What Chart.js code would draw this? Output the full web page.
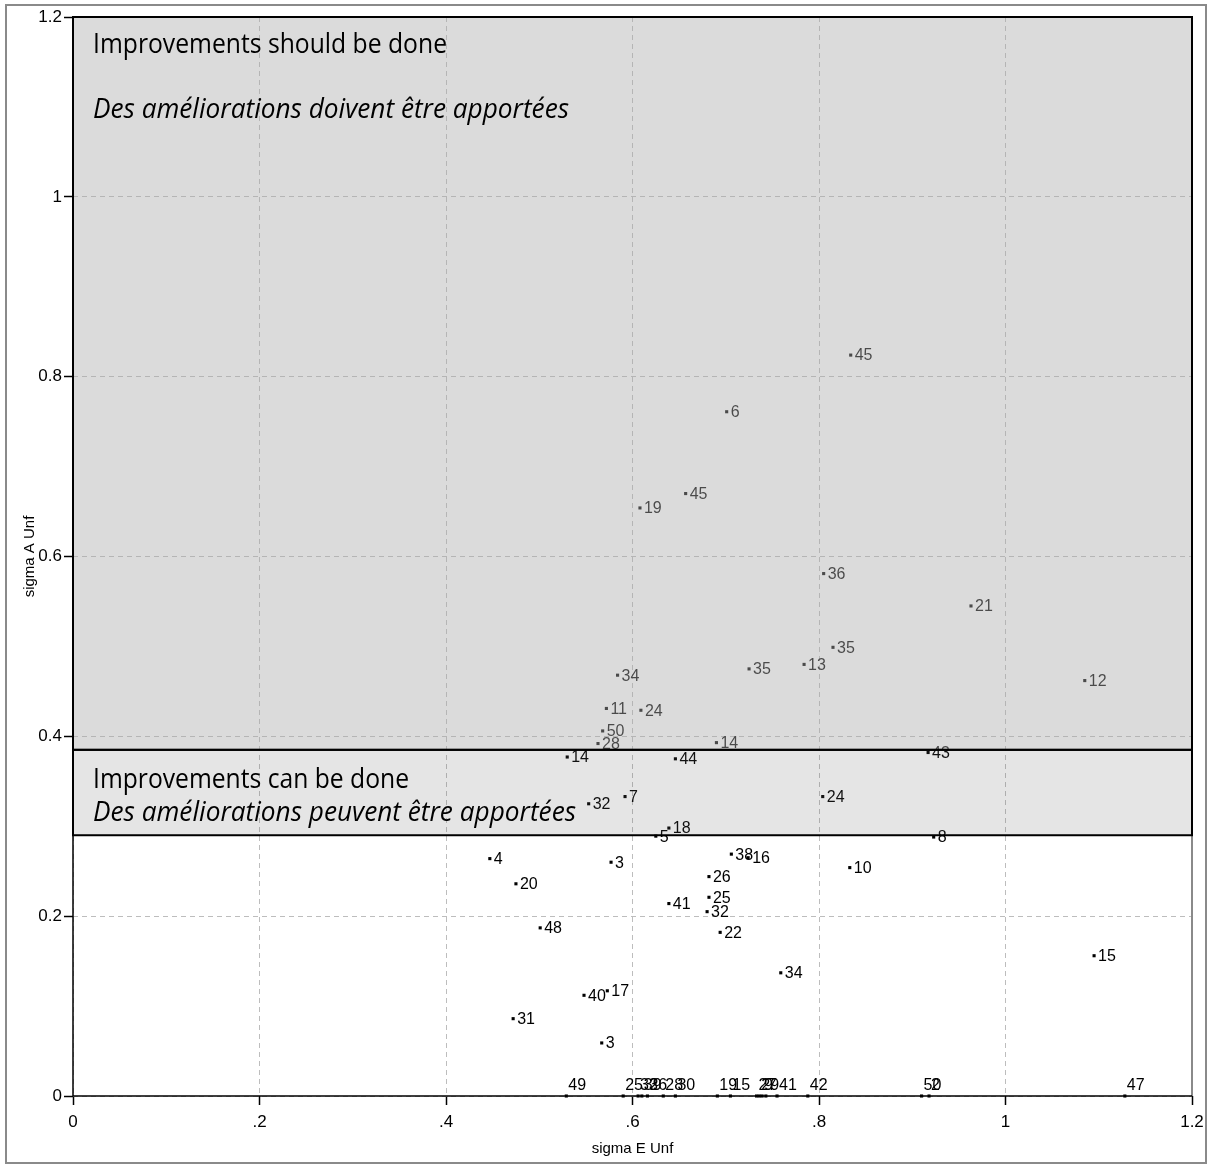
<!DOCTYPE html>
<html>
<head>
<meta charset="utf-8">
<script src="https://cdn.jsdelivr.net/npm/chart.js@4.4.0/dist/chart.umd.min.js"></script>
<style>
  html, body { margin: 0; padding: 0; background: #ffffff; }
  #wrap { width: 1208px; height: 1165px; position: relative; }
</style>
</head>
<body>
<div id="wrap"><canvas id="c" width="1208" height="1165"></canvas></div>
<script>
// ---------- data ----------
const sigmaE = [0.834, 0.701, 0.657, 0.608, 0.805, 0.963, 0.815, 0.725, 0.784, 1.085,
                0.584, 0.572, 0.609, 0.568, 0.563, 0.690, 0.530, 0.646, 0.917, 0.553,
                0.592, 0.804, 0.625, 0.639, 0.923, 0.447, 0.577, 0.706, 0.724, 0.833,
                0.475, 0.682, 0.682, 0.639, 0.680, 0.694, 0.501, 1.095, 0.759, 0.548,
                0.573, 0.472, 0.567];
const sigmaA = [0.824, 0.761, 0.670, 0.654, 0.581, 0.545, 0.499, 0.475, 0.480, 0.462,
                0.468, 0.431, 0.429, 0.406, 0.392, 0.393, 0.377, 0.375, 0.382, 0.325,
                0.333, 0.333, 0.289, 0.298, 0.288, 0.264, 0.260, 0.269, 0.265, 0.254,
                0.236, 0.244, 0.221, 0.214, 0.205, 0.182, 0.187, 0.156, 0.137, 0.112,
                0.117, 0.086, 0.059];
const pointIds = ['45', '6', '45', '19', '36', '21', '35', '35', '13', '12',
                  '34', '11', '24', '50', '28', '14', '14', '44', '43', '32',
                  '7', '24', '5', '18', '8', '4', '3', '38', '16', '10',
                  '20', '26', '25', '41', '32', '22', '48', '15', '34', '40',
                  '17', '31', '3'];

// points lying on sigma A = 0
const zeroE = [0.529, 0.590, 0.606, 0.610, 0.616, 0.633, 0.646, 0.691, 0.705, 0.733,
               0.736, 0.739, 0.743, 0.755, 0.788, 0.910, 0.918, 1.128];
const zeroA = [0, 0, 0, 0, 0, 0, 0, 0, 0, 0, 0, 0, 0, 0, 0, 0, 0, 0];
const zeroIds = ['49', '25', '33', '39', '26', '28', '30', '19', '15', '2',
                 '29', '9', '7', '41', '42', '50', '2', '47'];

// zones
const zoneFrom = [0.385, 0.29];
const zoneTo = [1.2, 0.385];
const zoneTitleEn = ['Improvements should be done', 'Improvements can be done'];
const zoneTitleFr = ['Des améliorations doivent être apportées', 'Des améliorations peuvent être apportées'];

// axes
const xTickValues = [0, 0.2, 0.4, 0.6, 0.8, 1, 1.2];
const xTickLabels = ['0', '.2', '.4', '.6', '.8', '1', '1.2'];
const yTickValues = [0, 0.2, 0.4, 0.6, 0.8, 1, 1.2];
const yTickLabels = ['0', '0.2', '0.4', '0.6', '0.8', '1', '1.2'];
const xTitle = 'sigma E Unf';
const yTitle = 'sigma A Unf';

// ---------- styles ----------
const zoneFill = ['rgba(172,172,172,0.43)', 'rgba(100,100,100,0.17)'];
const zoneTextWidth = [[354, 476], [316, 483]];
const zoneTextBaseline = [[36, 101], [38, 71]];
const BASE_FONT = '"Liberation Sans", Arial, sans-serif';

const annotate = {
  id: 'annotate',
  beforeDraw(chart) {
    const ctx = chart.ctx;
    ctx.save();
    ctx.fillStyle = '#ffffff';
    ctx.fillRect(0, 0, chart.width, chart.height);
    ctx.strokeStyle = '#8a8a8a';
    ctx.lineWidth = 2;
    ctx.strokeRect(6, 5, chart.width - 8, chart.height - 7);
    ctx.restore();
  },
  beforeDatasetsDraw(chart) {
    const ctx = chart.ctx;
    const area = chart.chartArea;
    ctx.save();
    ctx.setLineDash([]);
    // plot right edge
    ctx.strokeStyle = '#8a8a8a';
    ctx.lineWidth = 2;
    ctx.beginPath();
    ctx.moveTo(area.right, area.top);
    ctx.lineTo(area.right, area.bottom);
    ctx.stroke();
    // axis lines
    ctx.strokeStyle = '#000000';
    ctx.lineWidth = 1.5;
    ctx.beginPath();
    ctx.moveTo(area.left, area.top);
    ctx.lineTo(area.left, area.bottom);
    ctx.lineTo(area.right, area.bottom);
    ctx.stroke();
    ctx.restore();
  },
  afterDatasetsDraw(chart) {
    const ctx = chart.ctx;
    const xs = chart.scales.x, ys = chart.scales.y;
    ctx.save();
    ctx.setLineDash([]);

    // marker labels
    ctx.font = '16px ' + BASE_FONT;
    ctx.fillStyle = '#000000';
    ctx.textAlign = 'left';
    ctx.textBaseline = 'middle';
    chart.getDatasetMeta(0).data.forEach((pt, i) => {
      ctx.fillText(pointIds[i], pt.x + 4, pt.y + 1);
    });
    chart.getDatasetMeta(1).data.forEach((pt, i) => {
      ctx.fillText(zeroIds[i], pt.x + 2, pt.y - 10);
    });

    // zones
    const x0 = xs.getPixelForValue(xs.min);
    const x1 = xs.getPixelForValue(xs.max);
    zoneFrom.forEach((lo, k) => {
      const yTop = ys.getPixelForValue(zoneTo[k]);
      const yBot = ys.getPixelForValue(lo);
      ctx.fillStyle = zoneFill[k];
      ctx.fillRect(x0, yTop, x1 - x0, yBot - yTop);
    });
    ctx.strokeStyle = '#000000';
    ctx.lineWidth = 2;
    zoneFrom.forEach((lo, k) => {
      const yTop = ys.getPixelForValue(zoneTo[k]);
      const yBot = ys.getPixelForValue(lo);
      ctx.strokeRect(x0, yTop, x1 - x0, yBot - yTop);
    });

    // zone titles
    ctx.fillStyle = '#000000';
    ctx.textBaseline = 'alphabetic';
    const drawFit = (text, font, x, y, w) => {
      ctx.font = font;
      const m = ctx.measureText(text).width;
      ctx.save();
      ctx.translate(x, y);
      ctx.scale(w / m, 1);
      ctx.fillText(text, 0, 0);
      ctx.restore();
    };
    zoneFrom.forEach((lo, k) => {
      const yTop = ys.getPixelForValue(zoneTo[k]);
      drawFit(zoneTitleEn[k], '27px "Open Sans", "Noto Sans", sans-serif', x0 + 20, yTop + zoneTextBaseline[k][0], zoneTextWidth[k][0]);
      drawFit(zoneTitleFr[k], 'italic 27px "Open Sans", "Noto Sans", sans-serif', x0 + 20, yTop + zoneTextBaseline[k][1], zoneTextWidth[k][1]);
    });
    ctx.restore();
  }
};

const mainPts = sigmaE.map((x, i) => ({ x: x, y: sigmaA[i] }));
const zeroPts = zeroE.map((x, i) => ({ x: x, y: zeroA[i] }));

const pointStyle = {
  pointStyle: 'rect',
  pointRadius: 2.2,
  pointBackgroundColor: '#000000',
  pointBorderWidth: 0,
  pointHoverRadius: 2.2,
  clip: false
};

const gridStyle = {
  color: '#bdbdbd',
  lineWidth: 1,
  tickColor: '#000000',
  tickLength: 9,
  tickWidth: 1.5,
  tickBorderDash: []
};

new Chart(document.getElementById('c'), {
  type: 'scatter',
  data: {
    datasets: [
      Object.assign({ label: 'units', data: mainPts }, pointStyle),
      Object.assign({ label: 'units at zero', data: zeroPts }, pointStyle)
    ]
  },
  options: {
    responsive: false,
    animation: false,
    events: [],
    layout: { padding: { top: 17, right: 16, left: 0, bottom: 0 } },
    plugins: { legend: { display: false }, tooltip: { enabled: false } },
    scales: {
      x: {
        type: 'linear',
        min: 0, max: 1.2,
        afterBuildTicks: (s) => { s.ticks = xTickValues.map(v => ({ value: v })); },
        afterFit: (s) => { s.height = 69; s.paddingLeft = 0; s.paddingRight = 0; },
        ticks: {
          callback: (v, i) => xTickLabels[i],
          font: { family: BASE_FONT, size: 17 },
          color: '#000000',
          padding: 7,
          maxRotation: 0,
          autoSkip: false
        },
        grid: gridStyle,
        border: { display: false, dash: [5, 4] },
        title: {
          display: true, text: xTitle,
          font: { family: BASE_FONT, size: 15 },
          color: '#000000',
          padding: { top: 0, bottom: 7 }
        }
      },
      y: {
        type: 'linear',
        min: 0, max: 1.2,
        afterBuildTicks: (s) => { s.ticks = yTickValues.map(v => ({ value: v })); },
        afterFit: (s) => { s.width = 73; s.paddingTop = 0; s.paddingBottom = 0; },
        ticks: {
          callback: (v, i) => yTickLabels[i],
          font: { family: BASE_FONT, size: 17 },
          color: '#000000',
          padding: 2,
          autoSkip: false
        },
        grid: gridStyle,
        border: { display: false, dash: [5, 4] },
        title: {
          display: true, text: yTitle,
          font: { family: BASE_FONT, size: 15 },
          color: '#000000',
          padding: { top: 21, bottom: 0 }
        }
      }
    }
  },
  plugins: [annotate]
});
</script>
</body>
</html>
